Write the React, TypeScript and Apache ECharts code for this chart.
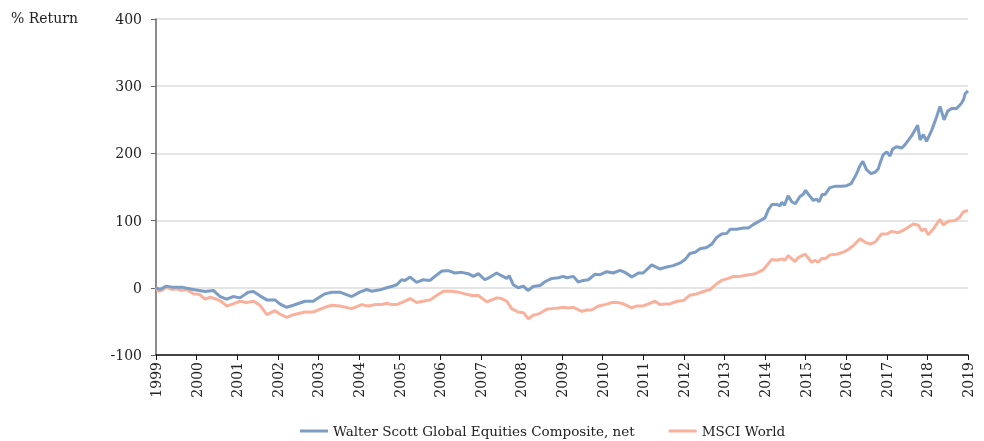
import React, { useEffect, useRef } from "react";
import * as echarts from "echarts";

const wsDates = [1999.0, 1999.1, 1999.25, 1999.39, 1999.63, 1999.92, 2000.21, 2000.41, 2000.58, 2000.74, 2000.9, 2001.07, 2001.27, 2001.4, 2001.56, 2001.73, 2001.93, 2002.05, 2002.22, 2002.38, 2002.67, 2002.87, 2003.16, 2003.33, 2003.53, 2003.82, 2004.02, 2004.19, 2004.31, 2004.52, 2004.68, 2004.8, 2004.93, 2005.05, 2005.13, 2005.26, 2005.42, 2005.58, 2005.75, 2005.87, 2006.04, 2006.2, 2006.36, 2006.53, 2006.69, 2006.82, 2006.94, 2007.1, 2007.23, 2007.39, 2007.51, 2007.64, 2007.7, 2007.8, 2007.92, 2008.05, 2008.16, 2008.29, 2008.46, 2008.58, 2008.75, 2008.91, 2009.03, 2009.12, 2009.28, 2009.4, 2009.52, 2009.65, 2009.81, 2009.94, 2010.1, 2010.26, 2010.43, 2010.55, 2010.72, 2010.88, 2011.0, 2011.21, 2011.41, 2011.58, 2011.74, 2011.91, 2012.03, 2012.15, 2012.28, 2012.4, 2012.56, 2012.69, 2012.81, 2012.93, 2013.06, 2013.14, 2013.3, 2013.47, 2013.59, 2013.71, 2013.88, 2014.0, 2014.08, 2014.17, 2014.29, 2014.37, 2014.41, 2014.48, 2014.57, 2014.66, 2014.75, 2014.86, 2014.94, 2015.0, 2015.07, 2015.19, 2015.27, 2015.33, 2015.41, 2015.48, 2015.6, 2015.72, 2015.89, 2016.01, 2016.12, 2016.26, 2016.34, 2016.41, 2016.5, 2016.61, 2016.71, 2016.79, 2016.83, 2016.91, 2017.0, 2017.08, 2017.14, 2017.24, 2017.37, 2017.45, 2017.61, 2017.76, 2017.82, 2017.9, 2017.98, 2018.11, 2018.23, 2018.31, 2018.41, 2018.5, 2018.6, 2018.72, 2018.83, 2018.89, 2018.93, 2019.0];
const wsValues = [0, -2.5, 2.5, 1, 1, -2.5, -5.5, -4, -13, -17, -13, -15, -6.5, -5.5, -12, -18, -18, -24, -29, -26, -20, -20, -9, -6.5, -6.5, -13, -6.5, -2.5, -5, -3, 0, 2, 4.5, 12, 11, 16, 8, 12, 11, 17, 25, 25.5, 22, 23, 21, 17, 21, 12, 16, 22, 18, 14, 18, 4.5, 0, 2.5, -4, 2, 3.5, 9, 14, 15, 17, 15, 17, 8.5, 11, 12, 20, 19.5, 24, 22, 26, 23, 16, 22, 22, 34, 28, 31, 33, 37, 42, 51, 53, 58, 60, 65, 75, 80, 81, 87, 87, 89, 89, 94, 100, 104, 116, 124, 124, 122, 127, 123, 137, 128, 125, 136, 139, 145, 139, 130, 132, 128, 139, 139, 149, 151, 151, 152, 155, 170, 182, 188, 176, 170, 172, 177, 185, 198, 202, 196, 206, 210, 208, 213, 226, 242, 220, 228, 218, 235, 255, 270, 250, 263, 267, 267, 274, 280, 289, 293];

const msciDates = [1999.0, 1999.06, 1999.14, 1999.25, 1999.39, 1999.51, 1999.63, 1999.76, 1999.92, 2000.08, 2000.21, 2000.33, 2000.5, 2000.62, 2000.74, 2000.9, 2001.07, 2001.23, 2001.4, 2001.56, 2001.73, 2001.93, 2002.05, 2002.22, 2002.38, 2002.67, 2002.87, 2003.16, 2003.33, 2003.53, 2003.82, 2004.07, 2004.23, 2004.39, 2004.56, 2004.68, 2004.8, 2004.93, 2005.09, 2005.26, 2005.42, 2005.58, 2005.75, 2005.91, 2006.08, 2006.28, 2006.45, 2006.61, 2006.78, 2006.94, 2007.15, 2007.27, 2007.39, 2007.51, 2007.64, 2007.76, 2007.92, 2008.05, 2008.17, 2008.29, 2008.46, 2008.62, 2008.75, 2008.91, 2009.03, 2009.16, 2009.28, 2009.49, 2009.61, 2009.73, 2009.9, 2010.06, 2010.22, 2010.39, 2010.51, 2010.72, 2010.84, 2011.0, 2011.13, 2011.29, 2011.41, 2011.54, 2011.66, 2011.83, 2011.99, 2012.15, 2012.32, 2012.48, 2012.65, 2012.81, 2012.93, 2013.1, 2013.22, 2013.38, 2013.55, 2013.71, 2013.83, 2013.96, 2014.08, 2014.16, 2014.29, 2014.41, 2014.49, 2014.57, 2014.74, 2014.82, 2014.99, 2015.15, 2015.23, 2015.31, 2015.4, 2015.48, 2015.6, 2015.77, 2015.93, 2016.05, 2016.18, 2016.34, 2016.46, 2016.59, 2016.71, 2016.87, 2017.0, 2017.12, 2017.28, 2017.45, 2017.65, 2017.78, 2017.86, 2017.94, 2018.02, 2018.15, 2018.31, 2018.39, 2018.51, 2018.68, 2018.8, 2018.88, 2019.0];
const msciValues = [0, -5, -4, 1, -2.5, -1.5, -4, -2.5, -9, -10, -17, -14, -17, -21, -27, -24, -20, -22, -20, -26, -40, -34, -39, -44, -40, -36, -36, -29, -26, -27, -31, -25, -27, -25, -25, -23, -25, -25, -21, -16, -22, -20, -18, -11.5, -5, -5, -6.5, -9, -11.5, -11.5, -21, -18, -15, -16, -20, -31, -36, -37, -46, -41, -38, -32, -31, -30, -29, -30, -29, -35, -33, -33, -27, -25, -22, -22, -24, -30, -27, -27, -24, -20, -25, -24, -24, -20, -19, -11, -9, -5.5, -2.5, 6, 11, 14, 17, 17, 19, 20, 23, 27, 36, 42, 41, 43, 41, 48, 39, 45, 50, 38, 41, 38, 44, 43, 49, 50, 53, 57, 63, 73, 68, 65, 68, 80, 80, 84, 82, 87, 95, 93, 85, 88, 79, 88, 102, 93.5, 99, 100, 105, 113, 115];

const seriesNames = ["Walter Scott Global Equities Composite, net", "MSCI World"];
const seriesColors = ["#7b9cc4", "#f9b19c"];
const yTitle = "% Return";

const FONT = "DejaVu Serif";

export default function App() {
  const ref = useRef<HTMLDivElement>(null);
  useEffect(() => {
    if (!ref.current) return;
    const chart = echarts.init(ref.current, undefined, { renderer: "svg" });
    const ws = wsDates.map((d, i) => [d, wsValues[i]]);
    const ms = msciDates.map((d, i) => [d, msciValues[i]]);
    chart.setOption({
      animation: false,
      textStyle: { fontFamily: FONT },
      grid: { left: 156, right: 16, top: 19, bottom: 86, containLabel: false },
      graphic: [
        {
          type: "text",
          left: 11,
          top: 11,
          style: { text: yTitle, font: `14px '${FONT}'`, fill: "#222" },
        },
      ],
      legend: {
        top: 424,
        left: 300,
        padding: 0,
        data: [
          { name: seriesNames[0], icon: "rect" },
          { name: seriesNames[1], icon: "rect" },
        ],
        itemWidth: 28,
        itemHeight: 3,
        itemGap: 34,
        textStyle: { fontFamily: FONT, fontSize: 13.5, color: "#222" },
      },
      xAxis: {
        type: "value",
        min: 1999,
        max: 2019,
        interval: 1,
        axisLine: { onZero: false, lineStyle: { color: "#111", width: 1.5 } },
        axisTick: { show: true, length: 5, lineStyle: { color: "#111" } },
        axisLabel: {
          rotate: 90,
          margin: 7,
          fontFamily: FONT,
          fontSize: 14,
          color: "#222",
          formatter: (v: number) => String(Math.round(v)),
        },
        splitLine: { show: false },
      },
      yAxis: {
        type: "value",
        min: -100,
        max: 400,
        interval: 100,
        axisLine: { show: true, lineStyle: { color: "#666", width: 1.5 } },
        axisTick: { show: true, length: 5, lineStyle: { color: "#666" } },
        axisLabel: { margin: 14, fontFamily: FONT, fontSize: 14, color: "#222" },
        splitLine: { show: true, lineStyle: { color: "#dcdcdc", width: 1.5 } },
      },
      series: [
        {
          name: seriesNames[1],
          type: "line",
          data: ms,
          showSymbol: false,
          color: seriesColors[1],
          lineStyle: { width: 3, color: seriesColors[1] },
          z: 2,
        },
        {
          name: seriesNames[0],
          type: "line",
          data: ws,
          showSymbol: false,
          color: seriesColors[0],
          lineStyle: { width: 3, color: seriesColors[0] },
          z: 3,
        },
      ],
    });
    return () => chart.dispose();
  }, []);
  return (
    <div
      ref={ref}
      style={{ position: "fixed", left: 0, top: 0, width: 984, height: 441 }}
    />
  );
}
